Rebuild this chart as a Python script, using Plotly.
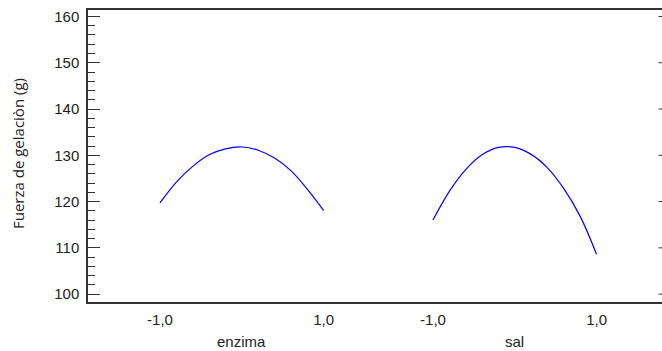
import plotly.graph_objects as go

# Factor levels (coded)
levels = [-1.0, -0.8, -0.6, -0.4, -0.2, 0.0, 0.2, 0.4, 0.6, 0.8, 1.0]

# Main effect: enzima
enzima_vals = [119.7, 124.2, 127.6, 130.1, 131.4, 131.8, 131.1, 129.4, 126.7, 122.7, 118.1]
# Main effect: sal
sal_vals = [116.0, 122.2, 126.9, 130.1, 131.7, 131.7, 130.2, 127.3, 122.8, 116.8, 108.6]

factor_names = ["enzima", "sal"]
tick_levels = [-1.0, 1.0]
tick_labels = ["-1,0", "1,0"]
y_ticks = [100, 110, 120, 130, 140, 150, 160]

SAL_OFFSET = 3.337  # horizontal position shift of second factor panel

tick_font = dict(family="Liberation Sans Narrow, Arial Narrow, Liberation Sans, Arial", size=15, color="#222")

fig = go.Figure()
fig.add_trace(go.Scatter(x=levels, y=enzima_vals, mode="lines", line=dict(color="#0000ff", width=1.2, shape="spline"), showlegend=False))
fig.add_trace(go.Scatter(x=[v + SAL_OFFSET for v in levels], y=sal_vals, mode="lines", line=dict(color="#0000ff", width=1.2, shape="spline"), showlegend=False))

tickvals = tick_levels + [v + SAL_OFFSET for v in tick_levels]
ticktext = tick_labels + tick_labels

yrange = [98.3, 161.4]

fig.update_layout(
    width=662, height=351,
    margin=dict(l=88, r=0, t=10, b=49, autoexpand=False),
    paper_bgcolor="white", plot_bgcolor="white",
    xaxis=dict(range=[-1.880, 5.137], showgrid=False, zeroline=False,
               showline=True, linecolor="#333", linewidth=1.5, mirror=True,
               ticks="", tickvals=tickvals, ticktext=ticktext,
               tickfont=tick_font, ticklabelstandoff=3, automargin=False),
    yaxis=dict(range=yrange, showgrid=False, zeroline=False, mirror=False,
               showline=True, linecolor="#333", linewidth=1.5,
               ticks="inside", ticklen=12, tickwidth=1, tickcolor="#333",
               tickvals=y_ticks, tickfont=tick_font, ticklabelstandoff=4, automargin=False,
               minor=dict(ticks="inside", ticklen=7, tickwidth=1, tickcolor="#333", dtick=2, tick0=100)),
)

# short inward ticks on the right edge at each major y value
for v in y_ticks:
    fig.add_shape(type="line", xref="paper", yref="y", x0=0.994, x1=1.0, y0=v, y1=v,
                  line=dict(color="#333", width=1))

for name, off in zip(factor_names, [0.0, SAL_OFFSET]):
    fig.add_annotation(x=off, y=-0.134, xref="x", yref="paper", text=name, showarrow=False,
                       font=tick_font, xanchor="center", yanchor="middle")

fig.add_annotation(x=-0.122, y=0.51, xref="paper", yref="paper", text="Fuerza de gelaciòn (g)",
                   textangle=-90, showarrow=False, xanchor="center", yanchor="middle",
                   font=dict(family="Open Sans, Noto Sans, sans-serif", size=15, color="#222"))

# remove the browser's default page margin so the figure fills the window exactly
fig.write_html("out.html", config={"displayModeBar": False},
               post_script="document.body.style.margin='0';document.body.style.overflow='hidden';")
